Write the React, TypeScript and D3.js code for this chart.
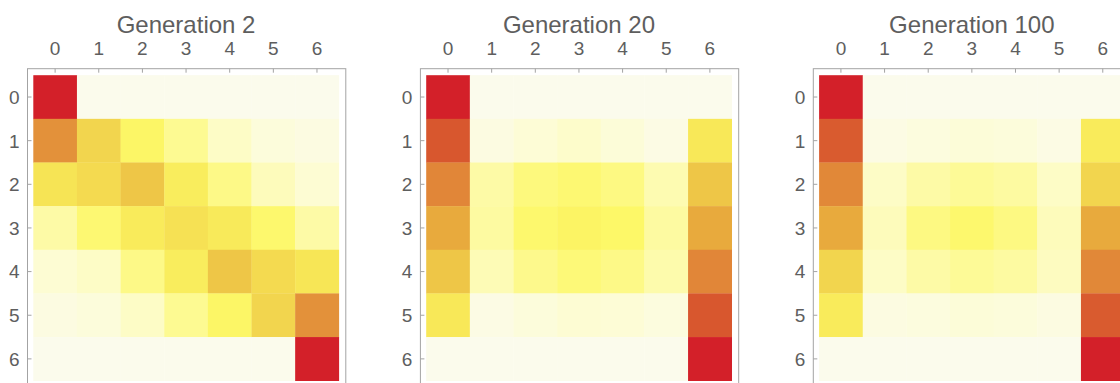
import React from "react";
import * as d3 from "d3";

// States of the chain (row = start state, column = state after n generations)
const states = [0, 1, 2, 3, 4, 5, 6];
const tickLabels = ["0", "1", "2", "3", "4", "5", "6"];
const titles = ["Generation 2", "Generation 20", "Generation 100"];

const generation2 = [
  [1.0, 0, 0, 0, 0, 0, 0],
  [0.7, 0.47, 0.31, 0.22, 0.12, 0.06, 0.04],
  [0.41, 0.45, 0.52, 0.36, 0.24, 0.14, 0.09],
  [0.18, 0.28, 0.37, 0.42, 0.38, 0.29, 0.18],
  [0.09, 0.12, 0.24, 0.36, 0.52, 0.45, 0.4],
  [0.04, 0.06, 0.12, 0.22, 0.31, 0.47, 0.7],
  [0, 0, 0, 0, 0, 0, 1.0],
];

const generation20 = [
  [1.0, 0, 0, 0, 0, 0, 0],
  [0.9, 0.04, 0.08, 0.11, 0.07, 0.03, 0.39],
  [0.75, 0.18, 0.26, 0.28, 0.25, 0.16, 0.52],
  [0.6, 0.19, 0.29, 0.32, 0.3, 0.19, 0.6],
  [0.52, 0.15, 0.23, 0.27, 0.24, 0.17, 0.75],
  [0.39, 0.03, 0.06, 0.09, 0.08, 0.05, 0.9],
  [0, 0, 0, 0, 0, 0, 1.0],
];

const generation100 = [
  [1.0, 0, 0, 0, 0, 0, 0],
  [0.89, 0.03, 0.05, 0.07, 0.06, 0.03, 0.37],
  [0.74, 0.12, 0.18, 0.21, 0.19, 0.12, 0.47],
  [0.6, 0.14, 0.25, 0.29, 0.25, 0.14, 0.6],
  [0.47, 0.12, 0.18, 0.21, 0.19, 0.13, 0.74],
  [0.37, 0.04, 0.05, 0.07, 0.06, 0.04, 0.89],
  [0, 0, 0, 0, 0, 0, 1.0],
];

const matrices = [generation2, generation20, generation100];

// cream -> yellow -> orange -> red ramp
const rampStops = [0, 0.1, 0.2, 0.3, 0.4, 0.5, 0.6, 0.7, 0.8, 0.9, 1.0];
const rampColors = [
  "#fbfbec",
  "#fdfcd0",
  "#fdfa9c",
  "#fdf868",
  "#f7e656",
  "#f0cd4a",
  "#e8aa3d",
  "#e3913a",
  "#de7a35",
  "#d8572e",
  "#d32029",
];

const color = d3
  .scaleLinear<string>()
  .domain(rampStops)
  .range(rampColors)
  .interpolate(d3.interpolateRgb)
  .clamp(true);

const W = 1120;
const H = 383;
const gridSize = 305.5;
const panelStep = 392.9;
const firstLeft = 33.3;
const gridTop = 75.2;
const padLeft = 5.8;
const padRight = 7;
const padTop = 6.5;
const font = "'Liberation Sans', Arial, Helvetica, sans-serif";
const textGray = "#5e5e5e";
const frameGray = "#a3a3a3";

function Panel({ index }: { index: number }) {
  const left = firstLeft + panelStep * index;
  const data = matrices[index];
  const x = d3.scaleBand<number>().domain(states).range([left, left + gridSize]);
  const y = d3.scaleBand<number>().domain(states).range([gridTop, gridTop + gridSize]);
  const bw = x.bandwidth();
  const fl = left - padLeft;
  const fr = left + gridSize + padRight;
  const ft = gridTop - padTop;
  const fb = gridTop + gridSize + padTop;
  return (
    <g>
      {data.map((row, r) =>
        row.map((v, c) => (
          <rect
            key={`${r}-${c}`}
            x={x(c)}
            y={y(r)}
            width={bw + 0.3}
            height={bw + 0.3}
            fill={color(v)}
          />
        ))
      )}
      <rect x={fl} y={ft} width={fr - fl} height={fb - ft} fill="none" stroke={frameGray} strokeWidth={1} />
      {states.map((s, i) => (
        <g key={`tx${s}`}>
          <line x1={x(s)! + bw / 2} x2={x(s)! + bw / 2} y1={ft} y2={ft + 4} stroke={frameGray} />
          <text x={x(s)! + bw / 2} y={55} textAnchor="middle" fontSize={19} fill={textGray} fontFamily={font}>
            {tickLabels[i]}
          </text>
        </g>
      ))}
      {states.map((s, i) => (
        <g key={`ty${s}`}>
          <line x1={fl} x2={fl + 4} y1={y(s)! + bw / 2} y2={y(s)! + bw / 2} stroke={frameGray} />
          <text
            x={fl - 8}
            y={y(s)! + bw / 2}
            dy="0.36em"
            textAnchor="end"
            fontSize={19}
            fill={textGray}
            fontFamily={font}
          >
            {tickLabels[i]}
          </text>
        </g>
      ))}
      <text x={left + gridSize / 2} y={33} textAnchor="middle" fontSize={24} fill={textGray} fontFamily={font}>
        {titles[index]}
      </text>
    </g>
  );
}

export default function App() {
  return (
    <svg
      width={W}
      height={H}
      viewBox={`0 0 ${W} ${H}`}
      style={{ position: "absolute", left: 0, top: 0, background: "#fff" }}
    >
      <rect width={W} height={H} fill="#fff" />
      {titles.map((_, i) => (
        <Panel key={i} index={i} />
      ))}
    </svg>
  );
}
